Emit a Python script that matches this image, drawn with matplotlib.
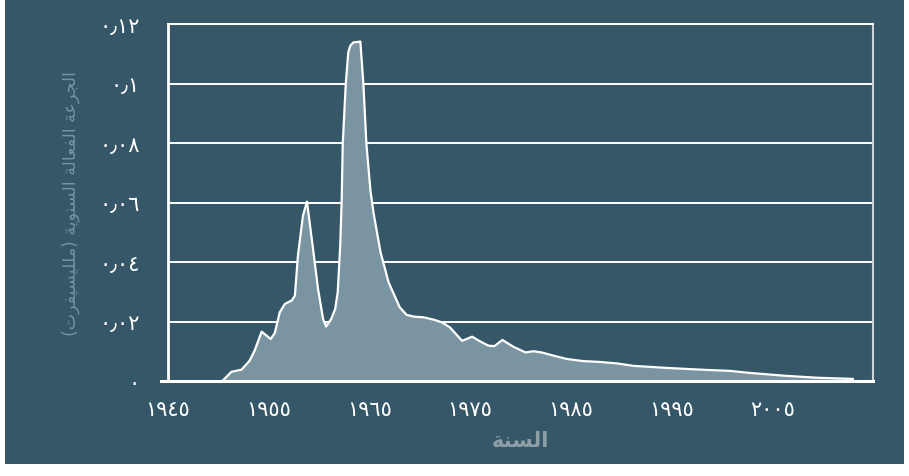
import matplotlib
matplotlib.use("Agg")
import matplotlib.pyplot as plt
from matplotlib.patches import Rectangle

# annual effective dose (year, mSv)
years = [1950.4, 1951.3, 1952.3, 1953.1, 1953.6, 1954.3, 1955.2, 1955.6,
         1956.1, 1956.6, 1957.3, 1957.6, 1957.9, 1958.4, 1958.8, 1959.4,
         1959.9, 1960.4, 1960.7, 1961.2, 1961.6, 1961.85, 1962.1, 1962.25,
         1962.35, 1962.65, 1962.9, 1963.1, 1963.4, 1964.1, 1964.4, 1964.7,
         1965.1, 1965.4, 1966.1, 1966.9, 1968.0, 1968.7, 1969.5, 1970.4,
         1971.4, 1972.2, 1973.0, 1974.2, 1975.2, 1976.0, 1976.8, 1977.4,
         1978.2, 1979.3, 1980.5, 1981.3, 1982.1, 1983.3, 1984.6, 1986.2,
         1987.9, 1989.6, 1991.2, 1994.5, 1998.0, 2000.8, 2002.8, 2006.1,
         2009.4, 2013.0]
dose = [0.0, 0.0031, 0.0038, 0.0068, 0.0102, 0.0166, 0.0141, 0.0161,
        0.0231, 0.0259, 0.0271, 0.0287, 0.0421, 0.0556, 0.0603, 0.0444,
        0.0309, 0.0208, 0.0183, 0.0208, 0.0242, 0.0298, 0.0455, 0.0612,
        0.0797, 0.0998, 0.1105, 0.1127, 0.1138, 0.1141, 0.0998, 0.0797,
        0.0640, 0.0567, 0.0433, 0.0332, 0.0248, 0.0222, 0.0216, 0.0214,
        0.0206, 0.0197, 0.0180, 0.0135, 0.0149, 0.0133, 0.0119, 0.0117,
        0.0138, 0.0115, 0.0096, 0.0100, 0.0096, 0.0085, 0.0074, 0.0067,
        0.0064, 0.0059, 0.0051, 0.0044, 0.0038, 0.0034, 0.0027, 0.0018,
        0.0011, 0.0007]

x_ticks = [1945, 1955, 1965, 1975, 1985, 1995, 2005]
x_labels = ['١٩٤٥', '١٩٥٥', '١٩٦٥', '١٩٧٥', '١٩٨٥', '١٩٩٥', '٢٠٠٥']
y_ticks = [0, 0.02, 0.04, 0.06, 0.08, 0.1, 0.12]
y_labels = ['٠', '٠٫٠٢', '٠٫٠٤', '٠٫٠٦', '٠٫٠٨', '٠٫١', '٠٫١٢']

x_title = 'السنة'
y_title = 'الجرعة الفعالة السنوية (ملليسيفرت)'

BG = '#365767'
FILL = '#7a94a2'

# isolated, final, initial, medial presentation forms
FORMS = {
    'ا': ('\ufe8d', '\ufe8e', None, None),
    'ر': ('\ufead', '\ufeae', None, None),
    'و': ('\ufeed', '\ufeee', None, None),
    'ة': ('\ufe93', '\ufe94', None, None),
    'ل': ('\ufedd', '\ufede', '\ufedf', '\ufee0'),
    'ج': ('\ufe9d', '\ufe9e', '\ufe9f', '\ufea0'),
    'ع': ('\ufec9', '\ufeca', '\ufecb', '\ufecc'),
    'ف': ('\ufed1', '\ufed2', '\ufed3', '\ufed4'),
    'س': ('\ufeb1', '\ufeb2', '\ufeb3', '\ufeb4'),
    'ن': ('\ufee5', '\ufee6', '\ufee7', '\ufee8'),
    'ي': ('\ufef1', '\ufef2', '\ufef3', '\ufef4'),
    'م': ('\ufee1', '\ufee2', '\ufee3', '\ufee4'),
    'ت': ('\ufe95', '\ufe96', '\ufe97', '\ufe98'),
}


def shape_arabic(text):
    """Join letters and put them in visual (left to right) order"""
    out = []
    for i, c in enumerate(text):
        if c not in FORMS:
            out.append(c)
            continue
        iso, fin, ini, med = FORMS[c]
        prev = text[i - 1] if i > 0 else ''
        nxt = text[i + 1] if i + 1 < len(text) else ''
        join_prev = prev in FORMS and FORMS[prev][2] is not None
        join_next = ini is not None and nxt in FORMS
        if join_prev and join_next:
            out.append(med)
        elif join_prev:
            out.append(fin)
        elif join_next:
            out.append(ini)
        else:
            out.append(iso)
    mirror = {'(': ')', ')': '('}
    return ''.join(mirror.get(c, c) for c in reversed(out))


plt.rcParams['font.family'] = ['DejaVu Sans']

fig = plt.figure(figsize=(9.09, 4.77), dpi=100)
fig.patch.set_facecolor('white')
bg = Rectangle((5 / 909, 12 / 477), 899 / 909, 465 / 477,
               transform=fig.transFigure, facecolor=BG,
               edgecolor='none', zorder=-10)
fig.patches.append(bg)

ax = fig.add_axes([168 / 909, 1 - 382 / 477, 705 / 909, 357 / 477])
ax.set_zorder(1)
ax.set_facecolor(BG)

ax.fill_between(years, dose, color=FILL, linewidth=0, zorder=2)
ax.plot(years, dose, color='white', linewidth=1.6, zorder=3)

ax.set_xlim(1945, 2015)
ax.set_ylim(0, 0.12)

ax.set_xticks(x_ticks)
ax.set_xticklabels(x_labels)
ax.set_yticks(y_ticks)
ax.set_yticklabels(y_labels)
ax.tick_params(axis='x', length=0, pad=13, colors='white', labelsize=15)
ax.tick_params(axis='y', length=0, pad=20, colors='white', labelsize=15)

ax.grid(axis='y', color='white', linewidth=1.4)
ax.set_axisbelow(True)

for side in ['left', 'bottom', 'top']:
    ax.spines[side].set_color('white')
ax.spines['left'].set_linewidth(2)
ax.spines['bottom'].set_linewidth(2.2)
ax.spines['top'].set_linewidth(1.4)
ax.spines['right'].set_color('#c9d3d8')
ax.spines['right'].set_linewidth(1.5)

# short stub left of the origin
ax.axhline(0, xmin=-0.01, xmax=0, color='white', linewidth=2.2, clip_on=False)

ax.set_xlabel(shape_arabic(x_title), color='#8e9fa8', fontsize=15,
              fontweight='bold', labelpad=8)
ax.set_ylabel(shape_arabic(y_title), color='#7393a6', fontsize=12.5,
              labelpad=14)

plt.savefig('out.png', dpi=100, facecolor=fig.get_facecolor())
